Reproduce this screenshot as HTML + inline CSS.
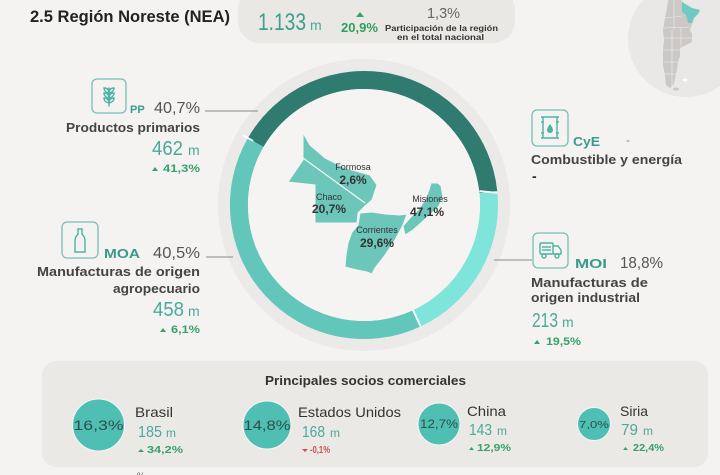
<!DOCTYPE html>
<html><head><meta charset="utf-8">
<style>
html,body{margin:0;padding:0;background:#f4f3f1;}
svg{display:block;}
text{font-family:"Liberation Sans",sans-serif;}
</style></head>
<body>
<svg width="720" height="475" viewBox="0 0 720 475" xmlns="http://www.w3.org/2000/svg">
<rect x="0" y="0" width="720" height="475" fill="#f4f3f1"/>

<!-- Argentina mini map -->
<circle cx="686" cy="39" r="58" fill="#e9e8e6"/>
<polygon points="668,0 681,0 683,3 692,8 700,10 698,14 694,18 692,24 690,30 692,34 692,42 684,46 680,48 680,56 678,62 677,70 675,78 674,84 670,88 666,85 665,75 663,65 663,50 664,40 663,30 665,18 667,8" fill="#cbc8c6"/>
<g stroke="#efeeec" stroke-width="0.6" fill="none">
<path d="M665,18 L682,16"/><path d="M664,28 L690,27"/><path d="M664,38 L692,38"/>
<path d="M663,50 L680,50"/><path d="M664,62 L678,62"/><path d="M665,74 L676,74"/>
<path d="M674,0 L674,30"/><path d="M672,30 L672,88"/><path d="M681,28 L681,46"/>
</g>
<polygon points="682,2 692,8 700,10 698,14 694,18 692,23 688,23 686,15 682,12" fill="#6fcac1"/>
<ellipse cx="685" cy="80" rx="2.5" ry="1.5" fill="#ffffff"/>
<ellipse cx="676" cy="89" rx="3" ry="1.5" fill="#cbc8c6"/>

<!-- Title -->
<text x="30" y="22" font-size="17" font-weight="700" fill="#222" textLength="200" lengthAdjust="spacingAndGlyphs">2.5 Región Noreste (NEA)</text>

<!-- Header pill -->
<rect x="238" y="-12" width="277" height="55" rx="22" fill="#e9e8e5"/>
<text x="258" y="30" font-size="24" fill="#3d9d8f" textLength="48" lengthAdjust="spacingAndGlyphs">1.133</text>
<text x="310" y="30" font-size="14" fill="#4aa99b">m</text>
<polygon points="356,17 360,12 364,17" fill="#3aa36a"/>
<text x="341" y="32" font-size="13" font-weight="700" fill="#2f9e5f" textLength="37" lengthAdjust="spacingAndGlyphs">20,9%</text>
<text x="427" y="18" font-size="15" fill="#666" textLength="33" lengthAdjust="spacingAndGlyphs">1,3%</text>
<text x="385" y="31" font-size="8" font-weight="700" fill="#333" textLength="113" lengthAdjust="spacingAndGlyphs">Participación de la región</text>
<text x="397" y="40" font-size="8" font-weight="700" fill="#333" textLength="87" lengthAdjust="spacingAndGlyphs">en el total nacional</text>

<!-- Donut -->
<circle cx="364" cy="205" r="146" fill="#ebeae8"/>
<circle cx="364" cy="205" r="134" fill="#f5f4f2"/>
<path d="M255.7,142.5 A125,125 0 0 1 488.3,191.9" fill="none" stroke="#2f7b6f" stroke-width="18"/>
<path d="M488.3,191.9 A125,125 0 0 1 416.8,318.3" fill="none" stroke="#7fe5db" stroke-width="18"/>
<path d="M416.8,318.3 A125,125 0 0 1 255.7,142.5" fill="none" stroke="#63c6bb" stroke-width="18"/>
<line x1="253.2" y1="141" x2="243.4" y2="135.4" stroke="#ffffff" stroke-width="1.8"/>
<line x1="479.4" y1="191" x2="497.3" y2="192.9" stroke="#ffffff" stroke-width="1.8"/>
<line x1="413" y1="310" x2="420.6" y2="326.5" stroke="#ffffff" stroke-width="1.8"/>
<circle cx="364" cy="205" r="116" fill="#f5f4f2"/>

<!-- leader lines -->
<line x1="205" y1="111" x2="258" y2="111" stroke="#8a8a8a" stroke-width="1"/>
<line x1="206" y1="257" x2="233" y2="257" stroke="#8a8a8a" stroke-width="1"/>
<line x1="494" y1="260" x2="532" y2="260" stroke="#8a8a8a" stroke-width="1"/>

<!-- Province map -->
<g fill="#6dc6ba" stroke="#f5f4f2" stroke-width="1">
<polygon points="303,133 310,145 325,158 345,168 370,175 377,185 372,200 364,207 358,213 357,223 315,223 315,185 288,182 303,160"/>
<polygon points="360,213 372,212 385,214 400,215 407,214 403,225 395,240 385,255 375,268 372,274 367,272 357,270 345,267 346,255 348,243 352,232 358,225"/>
<polygon points="403,226 410,218 418,210 425,200 429,190 431,183 438,183 441,186 443,197 439,206 433,212 422,222 413,230 405,235"/>
</g>
<line x1="303" y1="158" x2="365" y2="203" stroke="#f5f4f2" stroke-width="1.3"/>
<text x="353" y="170" font-size="9" fill="#333" text-anchor="middle">Formosa</text>
<text x="353" y="184" font-size="12" font-weight="700" fill="#333" text-anchor="middle">2,6%</text>
<text x="329" y="200" font-size="9" fill="#333" text-anchor="middle">Chaco</text>
<text x="329" y="213" font-size="12" font-weight="700" fill="#333" text-anchor="middle">20,7%</text>
<text x="430" y="202" font-size="9" fill="#333" text-anchor="middle">Misiones</text>
<text x="427" y="216" font-size="12" font-weight="700" fill="#333" text-anchor="middle">47,1%</text>
<text x="377" y="233" font-size="9" fill="#333" text-anchor="middle">Corrientes</text>
<text x="377" y="247" font-size="12" font-weight="700" fill="#333" text-anchor="middle">29,6%</text>

<!-- PP -->
<rect x="92" y="79" width="34" height="34" rx="5" fill="none" stroke="#74c1b6" stroke-width="1.3"/>
<g stroke="#4fb1a4" stroke-width="1.4" fill="none" stroke-linecap="round">
<line x1="109" y1="88" x2="109" y2="106"/>
<path d="M109,93 q-5,-1 -5,-5 q5,0 5,5"/>
<path d="M109,93 q5,-1 5,-5 q-5,0 -5,5"/>
<path d="M109,98 q-5,-1 -5,-5 q5,0 5,5"/>
<path d="M109,98 q5,-1 5,-5 q-5,0 -5,5"/>
<path d="M109,103 q-5,-1 -5,-5 q5,0 5,5"/>
<path d="M109,103 q5,-1 5,-5 q-5,0 -5,5"/>
</g>
<text x="130" y="113" font-size="11" font-weight="700" fill="#3a9a8c">PP</text>
<text x="154" y="113" font-size="16" fill="#555" textLength="46" lengthAdjust="spacingAndGlyphs">40,7%</text>
<text x="66" y="132" font-size="13" font-weight="700" fill="#444" textLength="134" lengthAdjust="spacingAndGlyphs">Productos primarios</text>
<text x="152" y="155" font-size="20" fill="#4aa99b" textLength="31" lengthAdjust="spacingAndGlyphs">462</text>
<text x="188" y="155" font-size="14" fill="#4aa99b">m</text>
<polygon points="152,171 155,167 158,171" fill="#38a06a"/>
<text x="163" y="172" font-size="11" font-weight="700" fill="#38a06a" textLength="37" lengthAdjust="spacingAndGlyphs">41,3%</text>

<!-- MOA -->
<rect x="62" y="222" width="36" height="36" rx="5" fill="none" stroke="#74c1b6" stroke-width="1.3"/>
<path d="M78,229 h4 v5 q3,3 3,7 v11 h-10 v-11 q0,-4 3,-7 z" fill="none" stroke="#4fb1a4" stroke-width="1.4"/>
<text x="104" y="258" font-size="13" font-weight="700" fill="#3a9a8c" textLength="36" lengthAdjust="spacingAndGlyphs">MOA</text>
<text x="153" y="258" font-size="16" fill="#555" textLength="47" lengthAdjust="spacingAndGlyphs">40,5%</text>
<text x="37" y="276" font-size="13" font-weight="700" fill="#444" textLength="163" lengthAdjust="spacingAndGlyphs">Manufacturas de origen</text>
<text x="113" y="293" font-size="13" font-weight="700" fill="#444" textLength="87" lengthAdjust="spacingAndGlyphs">agropecuario</text>
<text x="153" y="316" font-size="20" fill="#4aa99b" textLength="31" lengthAdjust="spacingAndGlyphs">458</text>
<text x="188" y="316" font-size="14" fill="#4aa99b">m</text>
<polygon points="160,332 163,328 166,332" fill="#38a06a"/>
<text x="171" y="333" font-size="11" font-weight="700" fill="#38a06a" textLength="29" lengthAdjust="spacingAndGlyphs">6,1%</text>

<!-- CyE -->
<rect x="532" y="110" width="36" height="36" rx="5" fill="none" stroke="#74c1b6" stroke-width="1.3"/>
<g stroke="#4fb1a4" stroke-width="1.4" fill="none">
<line x1="541" y1="117" x2="559" y2="117"/>
<line x1="541" y1="138" x2="559" y2="138"/>
<line x1="543" y1="117" x2="543" y2="138"/>
<line x1="557" y1="117" x2="557" y2="138"/>
<line x1="541" y1="122" x2="544" y2="122"/><line x1="556" y1="122" x2="559" y2="122"/>
<line x1="541" y1="133" x2="544" y2="133"/><line x1="556" y1="133" x2="559" y2="133"/>
</g>
<path d="M550,124 q3,4 3,6 a3,3 0 0 1 -6,0 q0,-2 3,-6z" fill="#4fb1a4"/>
<text x="573" y="146" font-size="13" font-weight="700" fill="#3a9a8c" textLength="27" lengthAdjust="spacingAndGlyphs">CyE</text>
<text x="626" y="144" font-size="12" fill="#7a8a9a">-</text>
<text x="531" y="164" font-size="13" font-weight="700" fill="#444" textLength="151" lengthAdjust="spacingAndGlyphs">Combustible y energía</text>
<text x="532" y="181" font-size="14" font-weight="700" fill="#222">-</text>

<!-- MOI -->
<rect x="533" y="233" width="35" height="35" rx="5" fill="none" stroke="#74c1b6" stroke-width="1.3"/>
<g stroke="#4fb1a4" stroke-width="1.4" fill="none">
<rect x="540" y="243" width="13" height="11" rx="1"/>
<path d="M553,246 h5 l3,4 v4 h-8"/>
<line x1="542" y1="247" x2="551" y2="247"/>
<line x1="542" y1="250" x2="551" y2="250"/>
<circle cx="544" cy="256" r="2" fill="#f4f3f1"/>
<circle cx="557" cy="256" r="2" fill="#f4f3f1"/>
</g>
<text x="575" y="268" font-size="13" font-weight="700" fill="#3a9a8c" textLength="32" lengthAdjust="spacingAndGlyphs">MOI</text>
<text x="620" y="268" font-size="16" fill="#555" textLength="43" lengthAdjust="spacingAndGlyphs">18,8%</text>
<text x="531" y="287" font-size="13" font-weight="700" fill="#444" textLength="117" lengthAdjust="spacingAndGlyphs">Manufacturas de</text>
<text x="531" y="302" font-size="13" font-weight="700" fill="#444" textLength="109" lengthAdjust="spacingAndGlyphs">origen industrial</text>
<text x="532" y="327" font-size="20" fill="#4aa99b" textLength="26" lengthAdjust="spacingAndGlyphs">213</text>
<text x="562" y="327" font-size="14" fill="#4aa99b">m</text>
<polygon points="534,344 537,340 540,344" fill="#38a06a"/>
<text x="546" y="345" font-size="11" font-weight="700" fill="#38a06a" textLength="35" lengthAdjust="spacingAndGlyphs">19,5%</text>

<!-- Bottom panel -->
<rect x="42" y="361" width="666" height="106" rx="14" fill="#eae9e6"/>
<text x="265" y="385" font-size="13" font-weight="700" fill="#333" textLength="201" lengthAdjust="spacingAndGlyphs">Principales socios comerciales</text>

<circle cx="98.5" cy="425" r="26" fill="#4ebfb2" stroke="#f6f6f4" stroke-width="1"/>
<text x="98.5" y="430" font-size="14" fill="#2d4f4b" text-anchor="middle" textLength="50" lengthAdjust="spacingAndGlyphs">16,3%</text>
<text x="135" y="417" font-size="14" fill="#333" textLength="38" lengthAdjust="spacingAndGlyphs">Brasil</text>
<text x="138" y="437" font-size="16" fill="#4aa99b" textLength="24" lengthAdjust="spacingAndGlyphs">185</text>
<text x="166" y="437" font-size="12" fill="#4aa99b">m</text>
<polygon points="138,452 141,449 144,452" fill="#38a06a"/>
<text x="147" y="453" font-size="10" font-weight="700" fill="#38a06a" textLength="36" lengthAdjust="spacingAndGlyphs">34,2%</text>

<circle cx="267" cy="425" r="24" fill="#4ebfb2" stroke="#f6f6f4" stroke-width="1"/>
<text x="267" y="430" font-size="14" fill="#2d4f4b" text-anchor="middle" textLength="47" lengthAdjust="spacingAndGlyphs">14,8%</text>
<text x="298" y="417" font-size="14" fill="#333" textLength="103" lengthAdjust="spacingAndGlyphs">Estados Unidos</text>
<text x="302" y="437" font-size="16" fill="#4aa99b" textLength="23" lengthAdjust="spacingAndGlyphs">168</text>
<text x="330" y="437" font-size="12" fill="#4aa99b">m</text>
<polygon points="302,449 305,452 308,449" fill="#d0504f"/>
<text x="310" y="453" font-size="10" font-weight="700" fill="#d0504f" textLength="20" lengthAdjust="spacingAndGlyphs">-0,1%</text>

<circle cx="439" cy="424" r="21" fill="#4ebfb2" stroke="#f6f6f4" stroke-width="1"/>
<text x="439" y="428" font-size="12" fill="#2d4f4b" text-anchor="middle" textLength="38" lengthAdjust="spacingAndGlyphs">12,7%</text>
<text x="467" y="416" font-size="14" fill="#333" textLength="39" lengthAdjust="spacingAndGlyphs">China</text>
<text x="469" y="435" font-size="16" fill="#4aa99b" textLength="23" lengthAdjust="spacingAndGlyphs">143</text>
<text x="497" y="435" font-size="12" fill="#4aa99b">m</text>
<polygon points="469,450 471.5,447 474,450" fill="#38a06a"/>
<text x="477" y="451" font-size="10" font-weight="700" fill="#38a06a" textLength="34" lengthAdjust="spacingAndGlyphs">12,9%</text>

<circle cx="594" cy="424" r="16.5" fill="#4ebfb2" stroke="#f6f6f4" stroke-width="1"/>
<text x="594" y="428" font-size="10" fill="#2d4f4b" text-anchor="middle" textLength="30" lengthAdjust="spacingAndGlyphs">7,0%</text>
<text x="620" y="416" font-size="14" fill="#333" textLength="28" lengthAdjust="spacingAndGlyphs">Siria</text>
<text x="621" y="435" font-size="16" fill="#4aa99b" textLength="17" lengthAdjust="spacingAndGlyphs">79</text>
<text x="643" y="435" font-size="12" fill="#4aa99b">m</text>
<polygon points="623,450 625.5,447 628,450" fill="#38a06a"/>
<text x="633" y="451" font-size="10" font-weight="700" fill="#38a06a" textLength="31" lengthAdjust="spacingAndGlyphs">22,4%</text>

<text x="137" y="479" font-size="9" fill="#555">%</text>
</svg>
</body></html>
